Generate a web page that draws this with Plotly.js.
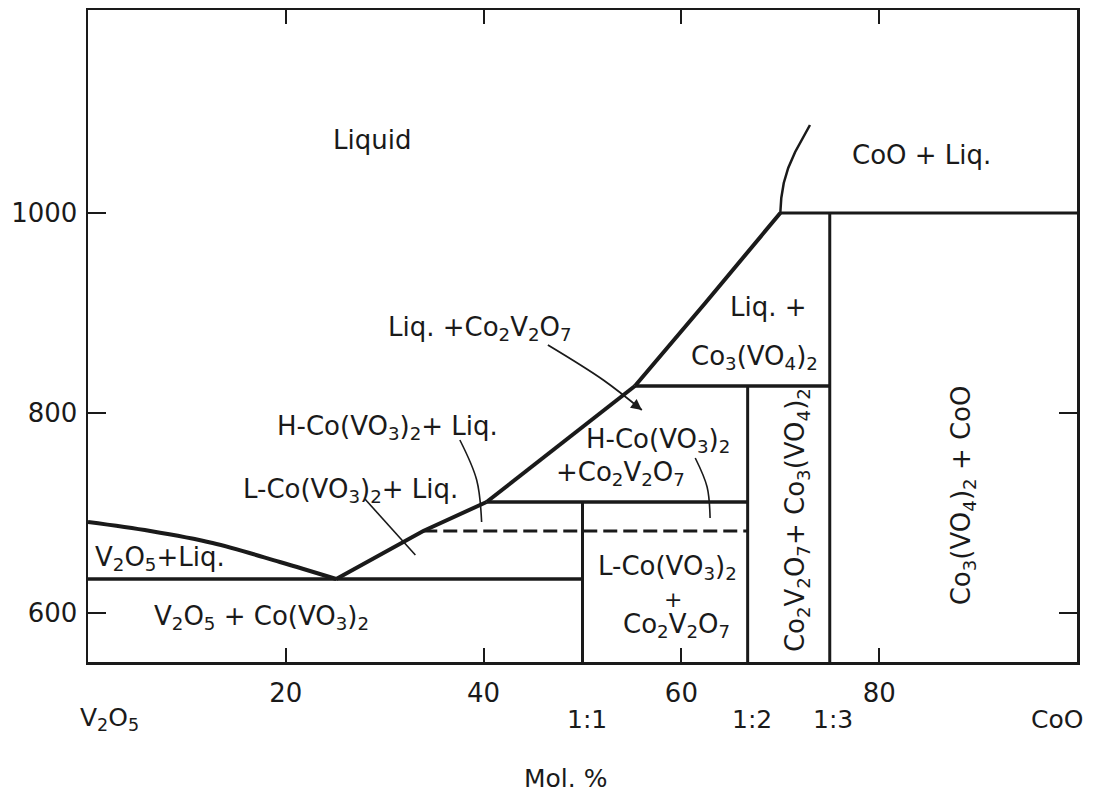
<!DOCTYPE html>
<html>
<head>
<meta charset="utf-8">
<script src="https://cdn.plot.ly/plotly-3.0.1.min.js"></script>
<style>html,body{margin:0;padding:0;background:#fff;}#chart{width:1098px;height:794px;}</style>
</head>
<body>
<div id="chart"></div>
<script>
// ---- Phase boundary data (x = mol.% CoO, y = temperature °C) ----
const liqV2O5_x = [0, 6.3, 12.6, 19.4, 25.1];
const liqV2O5_y = [691, 682, 670, 651, 634];
const liqCoVO3_x = [25.1, 33.9, 40.3];
const liqCoVO3_y = [634, 682, 711];
const liqCo2V2O7_x = [40.3, 55.3];
const liqCo2V2O7_y = [711, 827];
const liqCo3VO4_x = [55.3, 62.5, 70];
const liqCo3VO4_y = [827, 911, 1000];
const liqCoO_x = [70, 70.1, 70.35, 70.8, 71.5, 72.3, 73.0];
const liqCoO_y = [1000, 1015, 1030, 1045, 1061, 1075, 1088];

const eutectic_x = [0, 50];          const eutectic_y = [634, 634];
const peritectic1_x = [40.3, 66.7];  const peritectic1_y = [711, 711];
const transition_x = [33.9, 66.7];   const transition_y = [682, 682];
const peritectic2_x = [55.3, 75];    const peritectic2_y = [827, 827];
const peritectic3_x = [70, 100];     const peritectic3_y = [1000, 1000];

const comp11_x = [50, 50];       const comp11_y = [551, 711];
const comp12_x = [66.7, 66.7];   const comp12_y = [551, 827];
const comp13_x = [75, 75];       const comp13_y = [551, 1000];

// leader lines
const lead1_x = [46.5, 52.1, 56.0]; const lead1_y = [868, 833, 803];
const lead2_x = [37.6, 39.3, 39.8]; const lead2_y = [773, 733, 691];
const lead3_x = [28.0, 33.1];       const lead3_y = [714, 658];
const lead4_x = [61.4, 62.6, 62.9]; const lead4_y = [755, 726, 695];

// ticks
const xTicks = [20, 40, 60, 80];
const yTicks = [600, 800, 1000];

// region labels
const labels = [
  ["Liquid", 28.7, 1073, 0, 26],
  ["CoO + Liq.", 84.3, 1058, 0, 26],
  ["Liq. +", 68.8, 906, 0, 26],
  ["Co<sub>3</sub>(VO<sub>4</sub>)<sub>2</sub>", 67.4, 856, 0, 26],
  ["Liq. +Co<sub>2</sub>V<sub>2</sub>O<sub>7</sub>", 39.6, 885, 0, 26],
  ["H-Co(VO<sub>3</sub>)<sub>2</sub>+ Liq.", 30.3, 786, 0, 26],
  ["L-Co(VO<sub>3</sub>)<sub>2</sub>+ Liq.", 26.5, 723, 0, 26],
  ["H-Co(VO<sub>3</sub>)<sub>2</sub>", 57.6, 773, 0, 26],
  ["+Co<sub>2</sub>V<sub>2</sub>O<sub>7</sub>", 53.8, 740, 0, 26],
  ["V<sub>2</sub>O<sub>5</sub>+Liq.", 7.3, 655, 0, 26],
  ["V<sub>2</sub>O<sub>5</sub> + Co(VO<sub>3</sub>)<sub>2</sub>", 17.5, 596, 0, 26],
  ["L-Co(VO<sub>3</sub>)<sub>2</sub>", 58.6, 646, 0, 26],
  ["+", 59.1, 614, 0, 22],
  ["Co<sub>2</sub>V<sub>2</sub>O<sub>7</sub>", 59.5, 588, 0, 26],
  ["Co<sub>2</sub>V<sub>2</sub>O<sub>7</sub>+ Co<sub>3</sub>(VO<sub>4</sub>)<sub>2</sub>", 71.6, 693, -90, 26],
  ["Co<sub>3</sub>(VO<sub>4</sub>)<sub>2</sub> + CoO", 88.4, 718, -90, 26]
];
const bottomLabels = [
  ["V<sub>2</sub>O<sub>5</sub>", 2.2],
  ["1:1", 50.5],
  ["1:2", 67.1],
  ["1:3", 75.3],
  ["CoO", 98]
];

const ink = '#1a1a1a';
const font = 'DejaVu Sans, sans-serif';

function line(x, y, w, opts) {
  return Object.assign({
    x: x, y: y, type: 'scatter', mode: 'lines',
    line: {color: ink, width: w, shape: (x.length > 2 ? 'spline' : 'linear')},
    hoverinfo: 'skip', showlegend: false
  }, opts || {});
}

const traces = [
  line(liqV2O5_x, liqV2O5_y, 4),
  line(liqCoVO3_x, liqCoVO3_y, 4, {line: {color: ink, width: 4, shape: 'linear'}}),
  line(liqCo2V2O7_x, liqCo2V2O7_y, 4),
  line(liqCo3VO4_x, liqCo3VO4_y, 4),
  line(liqCoO_x, liqCoO_y, 2.5, {line: {color: ink, width: 2.5, shape: 'linear'}}),
  line(eutectic_x, eutectic_y, 3.5),
  line(peritectic1_x, peritectic1_y, 3.5),
  line(transition_x, transition_y, 3, {line: {color: ink, width: 3, dash: '14px,6px'}}),
  line(peritectic2_x, peritectic2_y, 3.5),
  line(peritectic3_x, peritectic3_y, 3),
  line(comp11_x, comp11_y, 3),
  line(comp12_x, comp12_y, 3),
  line(comp13_x, comp13_y, 3),
  line(lead1_x, lead1_y, 1.8),
  line(lead2_x, lead2_y, 1.6),
  line(lead3_x, lead3_y, 1.6),
  line(lead4_x, lead4_y, 1.6)
];

const annotations = labels.map(l => ({
  text: l[0], x: l[1], y: l[2], xref: 'x', yref: 'y', textangle: l[3],
  showarrow: false, xanchor: 'center', yanchor: 'middle', borderpad: 0,
  font: {family: font, size: l[4], color: ink}
}));
bottomLabels.forEach(b => annotations.push({
  text: b[0], x: b[1], y: -0.088, xref: 'x', yref: 'paper',
  showarrow: false, xanchor: 'center', yanchor: 'middle',
  font: {family: font, size: 25, color: ink}
}));
annotations.push({
  text: 'Mol. %', x: 48.3, y: -0.178, xref: 'x', yref: 'paper',
  showarrow: false, xanchor: 'center', yanchor: 'middle',
  font: {family: font, size: 25, color: ink}
});
// arrowhead on the Liq.+Co2V2O7 leader
annotations.push({
  text: '', x: lead1_x[2], y: lead1_y[2], ax: lead1_x[1] + 0.75*(lead1_x[2]-lead1_x[1]), ay: lead1_y[1] + 0.75*(lead1_y[2]-lead1_y[1]),
  xref: 'x', yref: 'y', axref: 'x', ayref: 'y',
  showarrow: true, arrowhead: 2, arrowsize: 1.2, arrowwidth: 1.8, arrowcolor: ink, standoff: 0
});

const layout = {
  width: 1098, height: 794,
  margin: {l: 88, r: 21, t: 10, b: 132},
  paper_bgcolor: '#ffffff', plot_bgcolor: '#ffffff',
  showlegend: false,
  xaxis: {
    range: [0, 100], tickvals: xTicks, ticktext: xTicks.map(String),
    ticks: 'inside', ticklen: 14, tickwidth: 2, tickcolor: ink,
    showline: true, linecolor: ink, linewidth: 2.5, mirror: 'ticks',
    showgrid: false, zeroline: false, ticklabelstandoff: 6,
    tickfont: {family: font, size: 26, color: ink}
  },
  yaxis: {
    range: [551, 1203], tickvals: yTicks, ticktext: yTicks.map(String),
    ticks: 'inside', ticklen: 18, tickwidth: 2, tickcolor: ink,
    showline: true, linecolor: ink, linewidth: 2.5, mirror: 'ticks',
    showgrid: false, zeroline: false, ticklabelstandoff: 3,
    tickfont: {family: font, size: 26, color: ink}
  },
  annotations: annotations
};

Plotly.newPlot('chart', traces, layout, {staticPlot: true, displayModeBar: false});
</script>
</body>
</html>
